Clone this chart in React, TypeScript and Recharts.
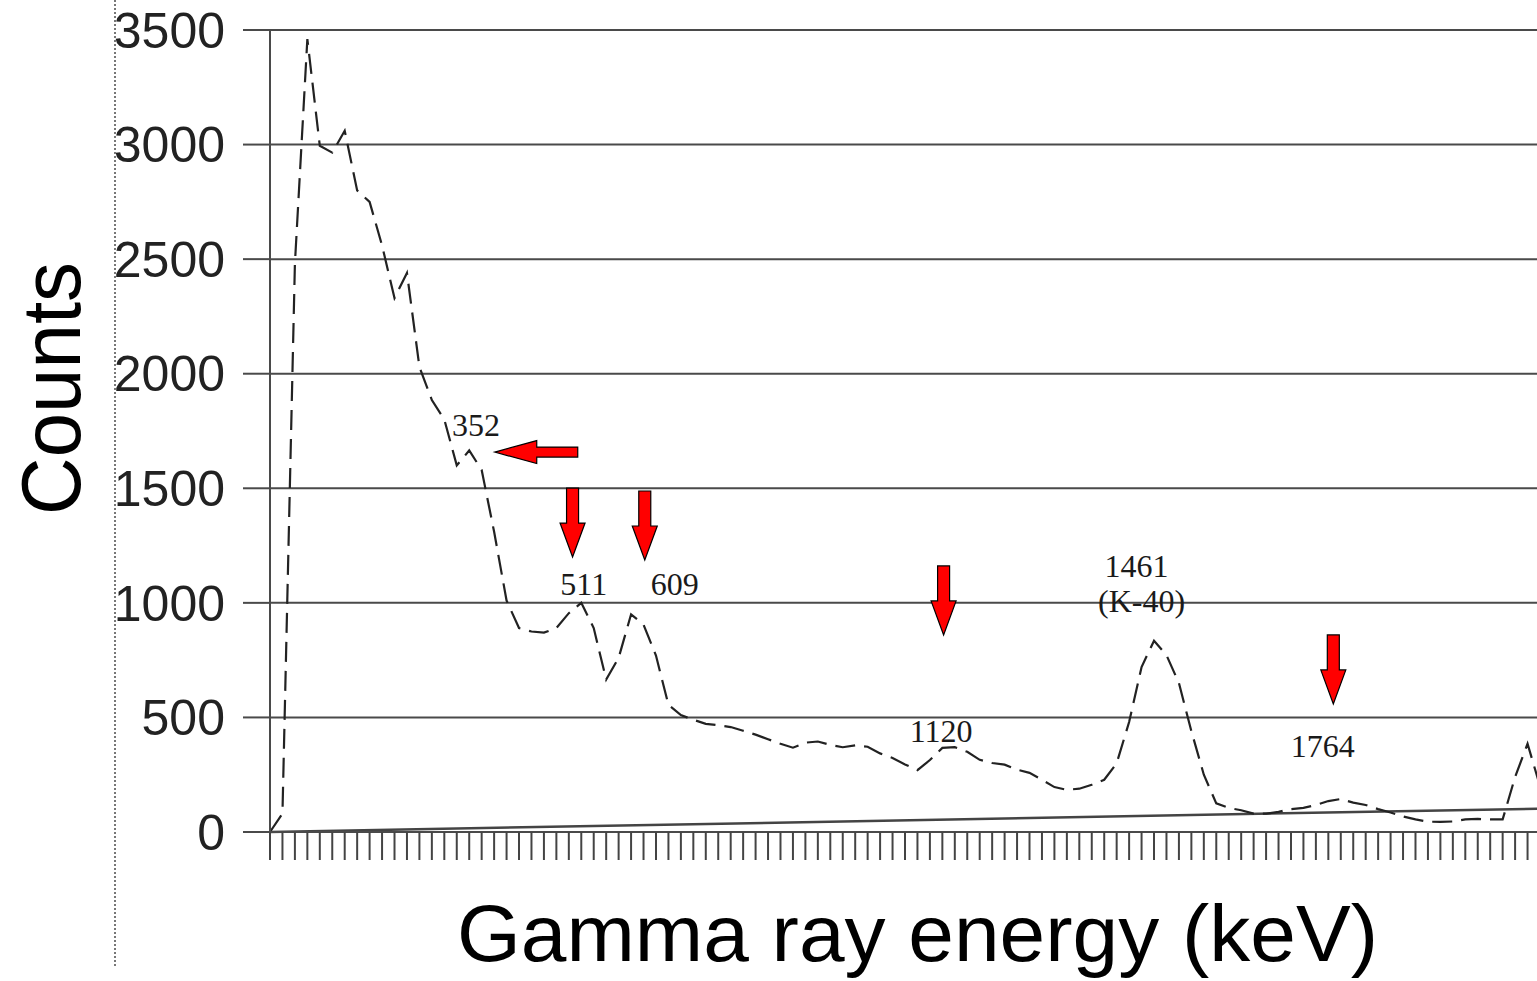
import { LineChart, Line, XAxis, YAxis, CartesianGrid, ReferenceDot } from 'recharts';

// detector channels (each ~21 keV wide), one tick per channel
const channels = Array.from({ length: 103 }, (_, i) => i);

// measured spectrum, counts per channel
const counts = [
  0, 80, 2480, 3460, 2995, 2965, 3060, 2800, 2750, 2560,
  2330, 2440, 2030, 1885, 1800, 1600, 1665, 1580, 1310, 1010,
  890, 875, 870, 890, 955, 1000, 890, 665, 760, 950,
  905, 770, 555, 510, 490, 472, 466, 458, 442, 425,
  405, 385, 368, 390, 395, 380, 370, 378, 372, 343,
  323, 295, 270, 314, 367, 370, 350, 315, 301, 294,
  272, 258, 228, 196, 184, 189, 206, 228, 300, 480,
  720, 835, 772, 650, 440, 250, 125, 105, 95, 80,
  80, 88, 100, 105, 118, 135, 144, 128, 118, 100,
  85, 68, 55, 45, 44, 46, 55, 57, 55, 55,
  240, 385, 200,
];

// straight background line, only its two ends are known
const backgroundEnds: Record<number, number> = { 0: 0, 102: 102 };

const yTicks = [0, 500, 1000, 1500, 2000, 2500, 3000, 3500];

// peak labels (channel, counts at baseline)
const peakLabels = [
  { text: '352', ch: 16.55, value: 1728 },
  { text: '511', ch: 25.2, value: 1034 },
  { text: '609', ch: 32.5, value: 1034 },
  { text: '1120', ch: 53.9, value: 393 },
  { text: '1461', ch: 69.6, value: 1113 },
  { text: '(K-40)', ch: 70.0, value: 960 },
  { text: '1764', ch: 84.55, value: 327 },
];

// red arrows, tip position
const arrows = [
  { ch: 18.05, value: 1658, dir: 'left' },
  { ch: 24.3, value: 1200, dir: 'down' },
  { ch: 30.1, value: 1187, dir: 'down' },
  { ch: 54.1, value: 860, dir: 'down' },
  { ch: 85.4, value: 559, dir: 'down' },
];

const data = channels.map((ch, i) => ({
  ch,
  counts: counts[i],
  bg: backgroundEnds[ch] ?? null,
}));

const Arrow = ({ cx, cy, dir }: any) => {
  let pts: number[][];
  if (dir === 'left') {
    pts = [
      [cx, cy], [cx + 42, cy - 11.5], [cx + 42, cy - 5], [cx + 83, cy - 5],
      [cx + 83, cy + 5], [cx + 42, cy + 5], [cx + 42, cy + 11.5],
    ];
  } else {
    pts = [
      [cx - 6, cy - 69], [cx + 6, cy - 69], [cx + 6, cy - 34], [cx + 12.5, cy - 34],
      [cx, cy], [cx - 12.5, cy - 34], [cx - 6, cy - 34],
    ];
  }
  return <polygon points={pts.map(p => p.join(',')).join(' ')} fill="#ff0000" stroke="#000" strokeWidth={1.2} />;
};

const PeakText = ({ cx, cy, text }: any) => (
  <text x={cx} y={cy} textAnchor="middle" fontFamily="'Liberation Serif', 'Times New Roman', serif" fontSize={32} fill="#1a1a1a">
    {text}
  </text>
);

export default function App() {
  return (
    <div style={{ position: 'absolute', left: 0, top: 0, width: 1537, height: 981, overflow: 'hidden', background: '#fff' }}>
      <LineChart width={1560} height={981} data={data} margin={{ top: 30, right: 20, bottom: 29, left: 0 }}>
        <CartesianGrid vertical={false} stroke="#4a4a4a" strokeWidth={2} />
        <XAxis
          dataKey="ch"
          type="number"
          domain={[0, 102]}
          ticks={channels}
          interval={0}
          height={120}
          tickSize={28}
          tickFormatter={() => ''}
          tickLine={{ stroke: '#444', strokeWidth: 2 }}
          axisLine={{ stroke: '#4a4a4a', strokeWidth: 2 }}
        />
        <YAxis
          domain={[0, 3500]}
          ticks={yTicks}
          interval={0}
          width={270}
          tickSize={27}
          tickMargin={18}
          axisLine={{ stroke: '#4a4a4a', strokeWidth: 2 }}
          tickLine={{ stroke: '#4a4a4a', strokeWidth: 2 }}
          tick={{ fill: '#222', fontSize: 50, fontFamily: "'Liberation Sans', Arial, sans-serif" }}
        />
        <Line dataKey="bg" connectNulls stroke="#444" strokeWidth={2.5} dot={false} isAnimationActive={false} />
        <Line dataKey="counts" stroke="#222" strokeWidth={2.2} strokeDasharray="20 9" dot={false} isAnimationActive={false} />
        {arrows.map((a, i) => (
          <ReferenceDot key={'a' + i} x={a.ch} y={a.value} r={0} ifOverflow="visible"
            shape={(p: any) => <Arrow cx={p.cx} cy={p.cy} dir={a.dir} />} />
        ))}
        {peakLabels.map((l, i) => (
          <ReferenceDot key={'l' + i} x={l.ch} y={l.value} r={0} ifOverflow="visible"
            shape={(p: any) => <PeakText cx={p.cx} cy={p.cy} text={l.text} />} />
        ))}
      </LineChart>
      <svg width={1537} height={981} style={{ position: 'absolute', left: 0, top: 0, pointerEvents: 'none' }}>
        <line x1={115} y1={0} x2={115} y2={966} stroke="#777" strokeWidth={2} strokeDasharray="2 2" />
        <text transform="translate(80, 388.5) rotate(-90)" textAnchor="middle" fontFamily="'Liberation Sans', Arial, sans-serif"
          fontSize={84} textLength={253} lengthAdjust="spacingAndGlyphs" fill="#000">
          Counts
        </text>
        <text x={917.5} y={961} textAnchor="middle" fontFamily="'Liberation Sans', Arial, sans-serif"
          fontSize={80} textLength={921} lengthAdjust="spacingAndGlyphs" fill="#000">
          Gamma ray energy (keV)
        </text>
      </svg>
    </div>
  );
}
